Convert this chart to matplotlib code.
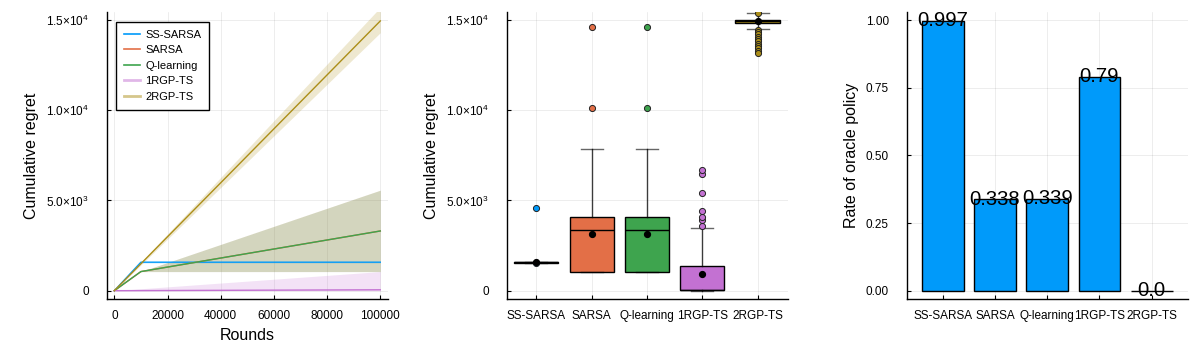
import numpy as np
import matplotlib
matplotlib.use('Agg')
import matplotlib.pyplot as plt
from matplotlib.lines import Line2D

plt.rcParams['font.family'] = ['Liberation Sans', 'DejaVu Sans']
plt.rcParams['mathtext.fontset'] = 'custom'
plt.rcParams['mathtext.rm'] = 'Liberation Sans'
plt.rcParams['mathtext.it'] = 'Liberation Sans:italic'

# ---------------- data ----------------
methods = ['SS-SARSA', 'SARSA', 'Q-learning', '1RGP-TS', '2RGP-TS']
colors = ['#009AFA', '#E36F47', '#3EA44E', '#C371D2', '#AC8E18']

rounds = [0, 10000, 100000]
line_ss = [0, 1580, 1580]
lo_ss = [0, 1535, 1535]
hi_ss = [0, 1625, 1625]
line_sarsa = [0, 1060, 3310]
lo_sarsa = [0, 1060, 1060]
hi_sarsa = [0, 1060, 5570]
line_q = [0, 1060, 3310]
lo_q = [0, 1060, 1060]
hi_q = [0, 1060, 5570]
line_1rgp = [0, 5, 50]
lo_1rgp = [0, 0, 0]
hi_1rgp = [0, 106, 1060]
line_2rgp = [0, 1495, 14950]
lo_2rgp = [0, 1430, 14300]
hi_2rgp = [0, 1570, 15700]

box_q1 = [1560, 1060, 1060, 40, 14820]
box_med = [1580, 3360, 3360, 40, 14930]
box_q3 = [1600, 4080, 4080, 1390, 15030]
whisk_lo = [1560, 1060, 1060, 0, 14500]
whisk_hi = [1600, 7840, 7840, 3490, 15370]
box_mean = [1580, 3130, 3130, 950, 14960]
outliers_ss = [4600, 1545]
outliers_sarsa = [10100, 14590]
outliers_q = [10100, 14590]
outliers_1rgp = [3580, 3900, 4060, 4400, 5400, 6480, 6700]
outliers_2rgp = [15400, 14450, 14330, 14200, 14070, 13950, 13820, 13700,
                 13570, 13440, 13300, 13170]

oracle_rate = [0.997, 0.338, 0.339, 0.79, 0.0]
oracle_text = ['0.997', '0.338', '0.339', '0.79', '0.0']

# ---------------- figure ----------------
W, H = 1200, 350
fig = plt.figure(figsize=(12, 3.5), dpi=100)

def make_ax(x0):
    return fig.add_axes([x0 / W, 1 - 299 / H, 281 / W, (299 - 12.3) / H])

ax1 = make_ax(107)
ax2 = make_ax(507)
ax3 = make_ax(907)

TICK_FS = 8.5
LABEL_FS = 11.5

def style(ax):
    for s in ['top', 'right']:
        ax.spines[s].set_visible(False)
    for s in ['left', 'bottom']:
        ax.spines[s].set_linewidth(1.0)
        ax.spines[s].set_color('black')
    ax.grid(True, color='black', alpha=0.1, linewidth=0.5)
    ax.set_axisbelow(True)
    ax.tick_params(axis='both', direction='in', length=3, width=0.8,
                   labelsize=TICK_FS, colors='black')
    ax.tick_params(axis='x', pad=8)
    ax.tick_params(axis='y', pad=13)

def sci_fmt(v):
    if v == 0:
        return '0'
    e = int(np.floor(np.log10(v)))
    m = v / 10 ** e
    return r'$\mathregular{%.1f{\times}10^{%d}}$' % (m, e)

# ---- panel 1: cumulative regret over rounds ----
style(ax1)
lines_data = [line_ss, line_sarsa, line_q, line_1rgp, line_2rgp]
lo_data = [lo_ss, lo_sarsa, lo_q, lo_1rgp, lo_2rgp]
hi_data = [hi_ss, hi_sarsa, hi_q, hi_1rgp, hi_2rgp]
for name, c, ln, lo, hi in zip(methods, colors, lines_data, lo_data, hi_data):
    ax1.fill_between(rounds, lo, hi, color=c, alpha=0.2, linewidth=0)
    ax1.plot(rounds, ln, color=c, linewidth=1.0, label=name)
ax1.set_xlim(-2750, 102900)
ax1.set_ylim(-460, 15430)
xt = [0, 20000, 40000, 60000, 80000, 100000]
ax1.set_xticks(xt)
ax1.set_xticklabels([str(v) for v in xt])
yt = [0, 5000, 10000, 15000]
ax1.set_yticks(yt)
ax1.set_yticklabels([sci_fmt(v) for v in yt])
ax1.set_xlabel('Rounds', fontsize=LABEL_FS, labelpad=4)
ax1.set_ylabel('Cumulative regret', fontsize=LABEL_FS, labelpad=5)
handles = [Line2D([0], [0], color=c, lw=1.2 if i < 3 else 2.0,
                  alpha=1.0 if i < 3 else 0.5)
           for i, c in enumerate(colors)]
leg = ax1.legend(handles, methods, loc='upper left',
                 bbox_to_anchor=(0.032, 0.967), borderaxespad=0,
                 fontsize=8, frameon=True, fancybox=False, framealpha=1,
                 edgecolor='black', handlelength=1.45, handletextpad=0.5,
                 labelspacing=0.5, borderpad=0.7)
leg.get_frame().set_linewidth(1.0)

# ---- panel 2: boxplots ----
style(ax2)
fliers_all = [outliers_ss, outliers_sarsa, outliers_q, outliers_1rgp, outliers_2rgp]
stats = []
for i in range(len(methods)):
    stats.append(dict(label=methods[i], med=box_med[i], q1=box_q1[i],
                      q3=box_q3[i], whislo=whisk_lo[i], whishi=whisk_hi[i],
                      mean=box_mean[i], fliers=fliers_all[i]))
pos = list(range(len(methods)))
bp = ax2.bxp(stats, positions=pos, widths=0.8, capwidths=0.4,
             patch_artist=True, showmeans=True, showfliers=True,
             boxprops=dict(linewidth=1.0, edgecolor='black'),
             medianprops=dict(color='black', linewidth=1.0),
             whiskerprops=dict(color='black', linewidth=1.0, alpha=0.75),
             capprops=dict(color='black', linewidth=1.0, alpha=0.6),
             meanprops=dict(marker='o', markerfacecolor='black',
                            markeredgecolor='black', markersize=4.2),
             flierprops=dict(marker='o', markersize=4.4,
                             markeredgecolor='#222222', markeredgewidth=0.7))
for patch, c in zip(bp['boxes'], colors):
    patch.set_facecolor(c)
for fl, c in zip(bp['fliers'], colors):
    fl.set_markerfacecolor(c)
for m in bp['means']:
    m.set_zorder(5)
ax2.set_xlim(-0.53, 4.55)
ax2.set_ylim(-460, 15430)
ax2.set_xticks(pos)
ax2.set_xticklabels(methods)
ax2.set_yticks(yt)
ax2.set_yticklabels([sci_fmt(v) for v in yt])
ax2.set_ylabel('Cumulative regret', fontsize=LABEL_FS, labelpad=5)

# ---- panel 3: rate of oracle policy ----
style(ax3)
ax3.bar(pos, oracle_rate, width=0.8, color='#009AFA', edgecolor='black',
        linewidth=1.0, zorder=2)
for x, v, t in zip(pos, oracle_rate, oracle_text):
    ax3.text(x, v, t, ha='center', va='center', fontsize=14.6,
             color='black', zorder=3)
ax3.set_xlim(-0.683, 4.695)
ax3.set_ylim(-0.0307, 1.0285)
ax3.set_xticks(pos)
ax3.set_xticklabels(methods)
ax3.set_yticks([0, 0.25, 0.5, 0.75, 1.0])
ax3.set_yticklabels(['0.00', '0.25', '0.50', '0.75', '1.00'])
ax3.set_ylabel('Rate of oracle policy', fontsize=LABEL_FS, labelpad=5)

fig.savefig('out.png', dpi=100)
